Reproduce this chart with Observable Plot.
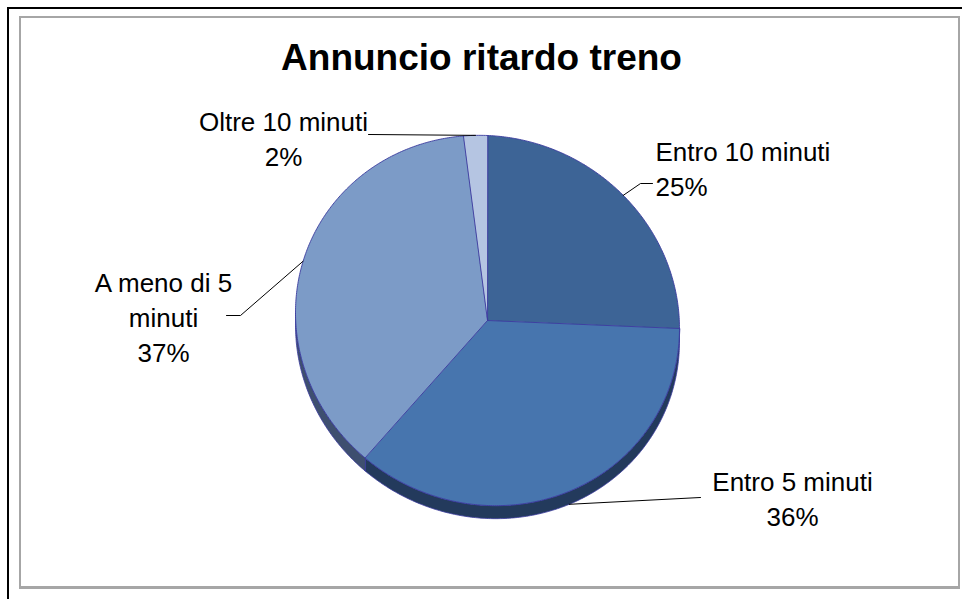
<!DOCTYPE html>
<html>
<head>
<meta charset="utf-8">
<script src="https://cdn.jsdelivr.net/npm/d3@7"></script>
<script src="https://cdn.jsdelivr.net/npm/@observablehq/plot@0.6"></script>
<style>
  html, body { margin: 0; padding: 0; background: #fff; }
  #wrap { position: relative; width: 962px; height: 599px; overflow: hidden; }
  #outer { position: absolute; left: 7px; top: 7px; width: 960px; height: 600px;
           border-left: 2px solid #000; border-top: 2px solid #000; box-sizing: border-box; }
  #inner { position: absolute; left: 19px; top: 16px; width: 941px; height: 573px;
           border: 2px solid #a6a6a6; border-bottom-width: 3px; box-sizing: border-box; }
  #chart { position: absolute; left: 0; top: 0; }
</style>
</head>
<body>
<div id="wrap"><div id="outer"></div><div id="inner"></div><div id="chart"></div></div>
<script>
// ---- data ----
const title = "Annuncio ritardo treno";
const categories = ["Entro 10 minuti", "Entro 5 minuti", "A meno di 5 minuti", "Oltre 10 minuti"];
const values = [25, 36, 37, 2];
const labelLines = [["Entro 10 minuti", "25%"], ["Entro 5 minuti", "36%"], ["A meno di 5", "minuti", "37%"], ["Oltre 10 minuti", "2%"]];
const topColors = ["#3d6496", "#4775ae", "#7c9bc7", "#b5c5e2"];
const sideColors = ["#2c4670", "#233a5c", "#3e4f6f", "#7f8fae"];

// ---- layout (pixels) ----
const W = 962, H = 599;
const CX = 487, CY = 320, RX = 192, RY = 185, TILT = 8, DEPTH = 13;
const FONT = 26, LINE = 35;
const labelLayout = [
  {x: 655, y: 152, anchor: "start", leader: [[640, 183], [652, 183]], onSide: false},
  {x: 792, y: 482, anchor: "middle", leader: [[700, 497]], onSide: true},
  {x: 163, y: 283, anchor: "middle", leader: [[240, 315], [226, 315]], onSide: false},
  {x: 283, y: 122, anchor: "middle", leader: [[368, 134]], onSide: false}
];

const ux = px => (px - CX) / RX;
const uy = py => (py - CY) / RX;
const rim = (a, d = 0) => ({
  x: Math.sin(a),
  y: (-Math.cos(a) * RY + TILT * Math.sin(a) + d) / RX
});

const arcs = d3.pie().sort(null).value(d => d)(values);

function arcPoints(a0, a1, d) {
  const n = Math.max(2, Math.ceil((a1 - a0) / 0.01));
  return d3.range(n + 1).map(i => rim(a0 + (a1 - a0) * i / n, d));
}

const marks = [];
arcs.forEach((arc, i) => {
  const s = Math.max(arc.startAngle, Math.PI / 2);
  const e = Math.min(arc.endAngle, 3 * Math.PI / 2);
  if (e > s) {
    const pts = [...arcPoints(s, e, 0), ...arcPoints(s, e, DEPTH).reverse()];
    marks.push(Plot.line(pts, {x: "x", y: "y", fill: sideColors[i], stroke: "#3b3b9e", strokeWidth: 0.8, curve: "linear-closed"}));
  }
});
arcs.forEach((arc, i) => {
  const pts = [{x: 0, y: 0}, ...arcPoints(arc.startAngle, arc.endAngle, 0)];
  marks.push(Plot.line(pts, {x: "x", y: "y", fill: topColors[i], stroke: "#3b3b9e", strokeWidth: 0.9, curve: "linear-closed"}));
});
arcs.forEach((arc, i) => {
  const L = labelLayout[i];
  const mid = (arc.startAngle + arc.endAngle) / 2;
  const p0 = rim(mid, L.onSide ? DEPTH : 0);
  const pts = [p0, ...L.leader.map(([px, py]) => ({x: ux(px), y: uy(py)}))];
  marks.push(Plot.line(pts, {x: "x", y: "y", stroke: "#000", strokeWidth: 1}));
});
const labelRows = [];
labelLines.forEach((lines, i) => {
  const L = labelLayout[i];
  lines.forEach((t, j) => labelRows.push({x: ux(L.x), y: uy(L.y + j * LINE), text: t, anchor: L.anchor}));
});
for (const anchor of ["start", "middle"]) {
  marks.push(Plot.text(labelRows.filter(d => d.anchor === anchor), {
    x: "x", y: "y", text: "text", textAnchor: anchor, fill: "#000",
    fontSize: FONT, fontFamily: "Arial, 'Liberation Sans', sans-serif"
  }));
}
marks.push(Plot.text([title], {
  frameAnchor: "top", lineAnchor: "middle", dy: 58, text: d => d, fill: "#000",
  fontSize: 37, fontWeight: "bold", fontFamily: "Arial, 'Liberation Sans', sans-serif"
}));

const chart = Plot.plot({
  width: W, height: H, margin: 0,
  x: {domain: [ux(0), ux(W)], range: [0, W], axis: null},
  y: {domain: [uy(0), uy(H)], range: [0, H], axis: null},
  style: {background: "transparent", overflow: "visible"},
  marks
});
document.getElementById("chart").appendChild(chart);
</script>
</body>
</html>
